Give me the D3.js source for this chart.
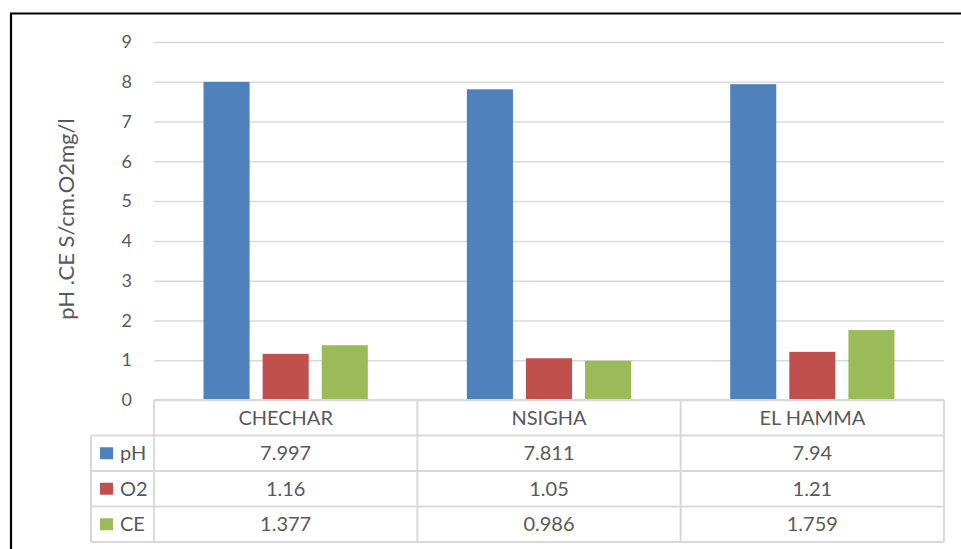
<!DOCTYPE html>
<html>
<head>
<meta charset="utf-8">
<script src="https://cdn.jsdelivr.net/npm/d3@7"></script>
<style>
  body { margin: 0; background: #fff; }
  text { font-family: Lato, "Open Sans", sans-serif; fill: #595959; }
</style>
</head>
<body>
<div class="container"></div>
<script>
const sites = ["CHECHAR", "NSIGHA", "EL HAMMA"]
const seriesNames = ["pH", "O2", "CE"]
const phValues = [7.997, 7.811, 7.94]
const o2Values = [1.16, 1.05, 1.21]
const ceValues = [1.377, 0.986, 1.759]
const seriesLabels = ["7.997", "7.811", "7.94", "1.16", "1.05", "1.21", "1.377", "0.986", "1.759"]
const yTicks = [0, 1, 2, 3, 4, 5, 6, 7, 8, 9]
const colors = ["#4f81bd", "#c0504d", "#9bbb59"]

const seriesValues = [phValues, o2Values, ceValues]

const W = 961, H = 549
const plotLeft = 154, plotRight = 944, plotTop = 42, plotBottom = 400
const rowH = 35.5, legendLeft = 91

const svg = d3.select(".container")
              .append("svg")
              .attr("width", W)
              .attr("height", H)

// frame
svg.append("path")
   .attr("d", `M11,${H} V13.5 H${W}`)
   .attr("fill", "none")
   .attr("stroke", "#000")
   .attr("stroke-width", 2.2)

const y = d3.scaleLinear().domain([0, 9]).range([plotBottom, plotTop])
const x = d3.scaleBand().domain(sites).range([plotLeft, plotRight])
const x1 = d3.scaleBand().domain(seriesNames).range([0, x.bandwidth()])
             .paddingInner(13 / 59).paddingOuter(0.838)

// gridlines + tick labels
const yAxis = d3.axisLeft(y).tickValues(yTicks).tickSize(-(plotRight - plotLeft)).tickFormat(d3.format("d"))
const gAxis = svg.append("g").attr("transform", `translate(${plotLeft},0)`).call(yAxis)
gAxis.select(".domain").remove()
gAxis.selectAll("line").attr("stroke", "#d9d9d9").attr("stroke-width", 1.5)
gAxis.selectAll("text").attr("x", -22).style("font-size", "18px").attr("fill", "#595959")

svg.append("text")
   .attr("transform", `translate(73.5,219) rotate(-90)`)
   .attr("text-anchor", "middle")
   .style("font-size", "22px")
   .text("pH .CE S/cm.O2mg/l")

// bars
const groups = svg.selectAll("g.site")
                  .data(sites)
                  .enter()
                  .append("g")
                  .attr("class", "site")
                  .attr("transform", (s) => `translate(${x(s)},0)`)

groups.selectAll("rect")
      .data((s, i) => seriesNames.map((n, k) => ({ name: n, value: seriesValues[k][i], color: colors[k] })))
      .enter()
      .append("rect")
      .attr("x", (d) => x1(d.name))
      .attr("y", (d) => y(d.value))
      .attr("width", x1.bandwidth())
      .attr("height", (d) => plotBottom - y(d.value))
      .attr("fill", (d) => d.color)

// data table
const table = svg.append("g")
const lineColor = "#d9d9d9"
const tbl = (xa, ya, xb, yb) => table.append("line")
  .attr("x1", xa).attr("y1", ya).attr("x2", xb).attr("y2", yb)
  .attr("stroke", lineColor).attr("stroke-width", 2)

tbl(plotLeft, plotBottom, plotRight, plotBottom)
for (let r = 1; r <= 4; r++) tbl(legendLeft, plotBottom + r * rowH, plotRight, plotBottom + r * rowH)
tbl(legendLeft, plotBottom + rowH, legendLeft, plotBottom + 4 * rowH)
sites.forEach((s) => tbl(x(s), plotBottom, x(s), plotBottom + 4 * rowH))
tbl(plotRight, plotBottom, plotRight, plotBottom + 4 * rowH)

table.selectAll("text.cat")
     .data(sites)
     .enter()
     .append("text")
     .attr("x", (s) => x(s) + x.bandwidth() / 2)
     .attr("y", plotBottom + rowH / 2 + 7)
     .attr("text-anchor", "middle")
     .style("font-size", "20px")
     .text((s) => s)

seriesNames.forEach((n, k) => {
  const cy = plotBottom + (k + 1) * rowH + rowH / 2
  table.append("rect")
       .attr("x", 100).attr("y", cy - 6)
       .attr("width", 13).attr("height", 12)
       .attr("fill", colors[k])
  table.append("text")
       .attr("x", 120).attr("y", cy + 7)
       .style("font-size", "20px")
       .text(n)
  sites.forEach((s, i) => {
    table.append("text")
         .attr("x", x(s) + x.bandwidth() / 2)
         .attr("y", cy + 7)
         .attr("text-anchor", "middle")
         .style("font-size", "20px")
         .text(seriesLabels[k * 3 + i])
  })
})
</script>
</body>
</html>
